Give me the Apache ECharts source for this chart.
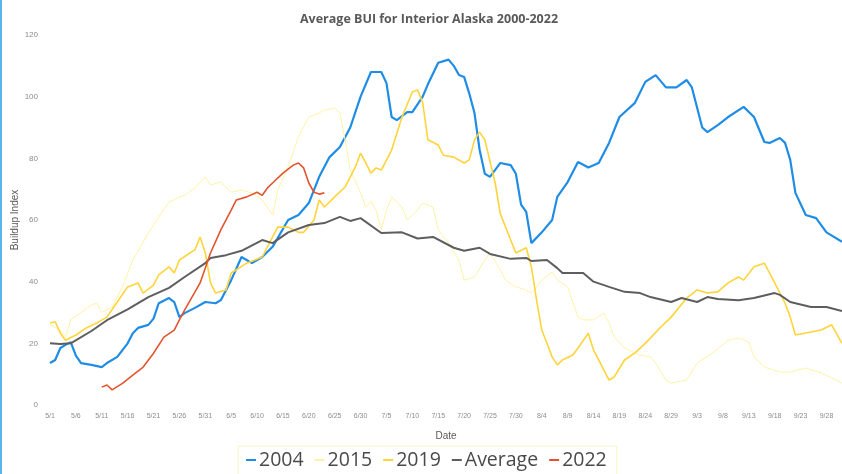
<!DOCTYPE html>
<html>
<head>
<meta charset="utf-8">
<script src="https://cdn.jsdelivr.net/npm/echarts@6/dist/echarts.min.js"></script>
<style>
html,body{margin:0;padding:0;background:#fff}
#chart{width:842px;height:474px}
</style>
</head>
<body>
<div id="chart"></div>
<script>
// x ticks every 5 days starting 5/1 (day 0)
const tickLabels = ["5/1","5/6","5/11","5/16","5/21","5/26","5/31","6/5","6/10","6/15","6/20","6/25","6/30","7/5","7/10",
	"7/15","7/20","7/25","7/30","8/4","8/9","8/14","8/19","8/24","8/29","9/3","9/8","9/13","9/18","9/23","9/28"]

// days since 5/1 + values
const days2004 = [0,1,2,3,4,5,6,8,10,11,13,15,16,17,19,20,21,23,24,25,26,28,30,32,33,35,37,39,41,43,46,48,50,52,54,56,58,60,62,64,65,66,67,69,70,72,73,75,77,78,79,80,81,82,83,84,85,87,89,90,91,92,93,95,97,98,100,102,104,106,108,110,113,115,117,119,121,123,124,126,127,129,131,134,136,138,139,141,142,143,144,146,148,150,153]
const vals2004 = [13.6,14.6,18.5,19.5,20.4,16,13.6,13,12.3,13.6,15.6,20,23.3,25,26,28,33,34.7,33.4,28.5,29.8,31.5,33.4,33,34,40.5,48,46,48,51.3,60,61.6,65.5,74,80.4,83.7,90,100,108,108,104.4,93.4,92.4,95,95,100,104,111,112,110,107,106.4,101,94.7,82.7,75,74,78.5,77.8,75,65,62.6,52.5,56,60,67.5,72.3,78.8,77,78.5,85,93.4,98,104.8,107,103,103,105.4,103,90,88.5,90.8,93.4,96.7,93.4,85.3,85,86.6,85,79.5,68.8,61.6,60.6,56,52.9]

const days2015 = [0,2,3,4,6,8,9,10,12,14,16,19,21,23,25,26,28,30,31,33,35,37,39,41,43,44,46,48,50,52,53,55,56,57,58,60,61,62,63,64,65,66,68,69,71,72,74,75,77,79,80,82,84,85,87,88,90,92,93,95,97,98,100,102,103,105,107,108,109,111,113,114,116,117,119,120,123,125,128,131,133,135,136,138,141,143,146,149,151,153]
const vals2015 = [26,24.3,22,27.6,30,32.4,33,30,31.8,38.3,47,55.8,61,65.8,67.5,68,70.4,74,71.4,72.3,69,69.7,68.8,66.5,61.6,69.7,77.2,87,93.4,94.7,95.7,96.3,94.7,86,76.2,68.8,64.2,66,63.2,56.8,63.2,67.5,64.2,60,63.2,65.5,64.2,56.8,52.5,47,40.5,41.5,47,49.3,43.8,40.5,38.3,37.3,36.3,40.5,43.1,40.5,38.3,28.5,27.6,27.6,29.8,26.6,22,18.5,16.9,16.2,15.6,13.6,8.1,7.1,8.1,13.6,16.9,21,21.7,20.4,15.6,12.3,10.7,10.7,12,10.4,8.8,7.1]

const days2019 = [0,1,2,3,5,7,9,11,13,15,17,18,20,21,23,24,25,27,28,29,30,31,32,34,35,38,41,42,44,46,48,49,51,52,53,55,57,59,60,61,62,63,64,66,68,70,71,72,73,75,76,78,80,81,82,83,84,86,87,89,90,92,93,94,95,96,97,98,99,101,102,104,105,106,108,109,111,113,115,118,120,123,125,127,129,131,133,134,136,138,140,142,143,144,147,149,151,153]
const vals2019 = [26.6,27,23.3,21,22.7,25,26.6,28.5,33.4,38.3,39.6,36.3,38.9,42.2,44.8,42.8,47,49.3,50.3,54.5,49.3,39.6,36.3,37.3,42.8,46,48,51.3,57.7,57.7,56,56,60,66.5,64.2,67.5,70.7,77.2,81.7,78.5,75.2,76.9,76.2,82.7,93.4,101.5,102.2,98,86,84.3,81,80.4,78.5,79.5,86,88.5,86,72,62,53.5,49.3,51,44.8,34,24.3,20,15.6,13,14.6,16.2,18.5,23.3,17.8,14.6,8.1,9.1,14.6,16.9,20,25.3,28.5,34.7,37.3,36.3,36.7,39.6,41.5,40.5,44.8,46,39.6,33,28.5,22.7,23.7,24.3,26,20]

const daysAvg = [0,2,4,8,11,15,19,23,26,30,31,34,37,41,43,46,50,53,56,58,60,64,68,71,74,78,80,83,85,89,92,93,96,98,99,103,105,108,111,114,116,120,122,125,127,129,133,136,140,141,143,147,150,153]
const valsAvg = [20,19.8,20,24,27.5,31,35,38,41.5,46,47.7,48.6,50,53.5,52.5,56,58.4,59,61,59.7,60.6,55.8,56,54,54.5,51,50,51,49,47.4,47.7,46.7,47,44.4,42.8,42.8,40,38.3,36.7,36.3,35,33.4,34.7,33.4,35,34.4,34,34.7,36.3,35.7,33.4,31.8,31.8,30.5]

const days2022 = [10,11,12,14,16,18,20,22,24,25,26,29,31,33,35,36,38,40,41,42,43,45,47,48,49,50,51,52,53]
const vals2022 = [5.8,6.5,4.9,7,9.7,12.3,16.8,22,24.3,27.6,30.8,39.6,49.3,56.8,63.2,66.5,67.5,69,68,70.4,72,75.2,77.8,78.5,76.9,72,69,68.4,68.8]

const pair = (d, v) => d.map((x, i) => [x, v[i]])

const chart = echarts.init(document.getElementById("chart"))
chart.setOption({
	backgroundColor: "#fff",
	animation: false,
	title: {
		text: "Average BUI for Interior Alaska 2000-2022",
		left: 295,
		top: 8,
		textStyle: { fontSize: 12.5, fontWeight: "bold", color: "#595959", fontFamily: "Open Sans" }
	},
	legend: {
		left: 238,
		top: 446,
		itemWidth: 10,
		itemHeight: 2,
		itemGap: 11,
		padding: [4, 10, 6, 8],
		borderColor: "#fbf3c4",
		borderWidth: 1,
		icon: "rect",
		textStyle: { fontSize: 19.5, color: "#4a4a4a", fontFamily: "Open Sans", padding: [0, 0, 0, -2] },
		data: ["2004", "2015", "2019", "Average", "2022"]
	},
	grid: { left: 50, right: 0, top: 35, bottom: 69, outerBoundsMode: "none" },
	xAxis: {
		type: "value",
		min: 0,
		max: 153,
		interval: 5,
		name: "Date",
		nameLocation: "middle",
		nameGap: 26,
		nameMoveOverlap: false,
		nameTextStyle: { fontSize: 10, color: "#595959" },
		axisLine: { show: false },
		axisTick: { show: false },
		splitLine: { show: false },
		axisLabel: {
			fontSize: 7,
			color: "#8c8c8c",
			margin: 8,
			showMaxLabel: false,
			formatter: v => tickLabels[v / 5] || ""
		}
	},
	yAxis: {
		type: "value",
		min: 0,
		max: 120,
		interval: 20,
		name: "Buildup Index",
		nameLocation: "middle",
		nameGap: 30,
		nameMoveOverlap: false,
		nameTextStyle: { fontSize: 10, color: "#595959" },
		axisLine: { show: false },
		axisTick: { show: false },
		splitLine: { show: false },
		axisLabel: { fontSize: 8, color: "#8c8c8c", margin: 12 }
	},
	graphic: [{
		type: "rect",
		shape: { x: 0, y: 0, width: 2, height: 474 },
		style: { fill: "#5ab4ea" }
	}],
	series: [
		{ name: "2004", type: "line", showSymbol: false, data: pair(days2004, vals2004),
			lineStyle: { width: 2.2, color: "#1f8ce6" }, itemStyle: { color: "#1f8ce6" } },
		{ name: "2015", type: "line", showSymbol: false, data: pair(days2015, vals2015),
			lineStyle: { width: 1, color: "#fff2a8" }, itemStyle: { color: "#fff2a8" } },
		{ name: "2019", type: "line", showSymbol: false, data: pair(days2019, vals2019),
			lineStyle: { width: 1.6, color: "#ffd43b" }, itemStyle: { color: "#ffd43b" } },
		{ name: "Average", type: "line", showSymbol: false, data: pair(daysAvg, valsAvg),
			lineStyle: { width: 2, color: "#5e5e5e" }, itemStyle: { color: "#5e5e5e" } },
		{ name: "2022", type: "line", showSymbol: false, data: pair(days2022, vals2022),
			lineStyle: { width: 1.6, color: "#e2552f" }, itemStyle: { color: "#e2552f" } }
	]
})
</script>
</body>
</html>
